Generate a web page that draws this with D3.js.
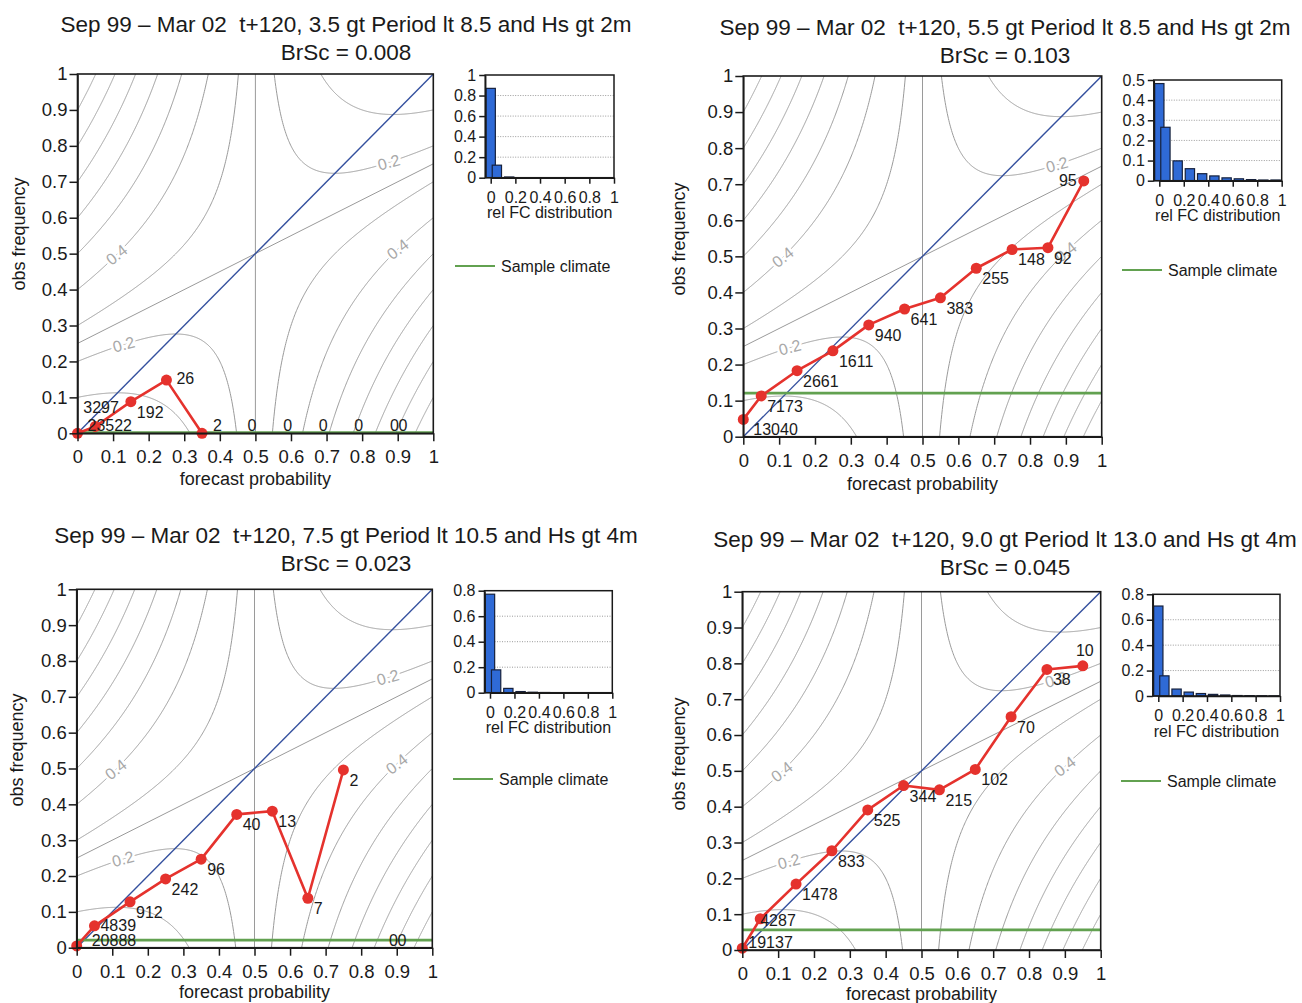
<!DOCTYPE html>
<html><head><meta charset="utf-8">
<script src="https://cdn.jsdelivr.net/npm/d3@7"></script>
<style>
body{margin:0;background:#fff;}
svg{font-family:"Liberation Sans",Arial,Helvetica,sans-serif;}
.title{white-space:pre;}
</style></head><body>
<svg id="chart" width="1302" height="1003"></svg>
<script>
// ---------------- data ----------------
const forecastProbs = [0, 0.05, 0.15, 0.25, 0.35, 0.45, 0.55, 0.65, 0.75, 0.85, 0.95];

const titles = [
  "Sep 99 \u2013 Mar 02  t+120, 3.5 gt Period lt 8.5 and Hs gt 2m",
  "Sep 99 \u2013 Mar 02  t+120, 5.5 gt Period lt 8.5 and Hs gt 2m",
  "Sep 99 \u2013 Mar 02  t+120, 7.5 gt Period lt 10.5 and Hs gt 4m",
  "Sep 99 \u2013 Mar 02  t+120, 9.0 gt Period lt 13.0 and Hs gt 4m"
];
const brierScores = ["0.008", "0.103", "0.023", "0.045"];

const counts1 = [23522, 3297, 192, 26, 2, 0, 0, 0, 0, 0, 0];
const obs1    = [0.0, 0.019, 0.088, 0.148, 0.0, null, null, null, null, null, null];

const counts2 = [13040, 7173, 2661, 1611, 940, 641, 383, 255, 148, 92, 95];
const obs2    = [0.048, 0.113, 0.183, 0.238, 0.310, 0.354, 0.385, 0.467, 0.519, 0.524, 0.709];

const counts3 = [20888, 4839, 912, 242, 96, 40, 13, 7, 2, 0, 0];
const obs3    = [0.005, 0.061, 0.128, 0.192, 0.247, 0.372, 0.381, 0.138, 0.496, null, null];

const counts4 = [19137, 4287, 1478, 833, 525, 344, 215, 102, 70, 38, 10];
const obs4    = [0.005, 0.087, 0.184, 0.277, 0.391, 0.459, 0.447, 0.504, 0.651, 0.783, 0.793];

const sampleClimate = [0.002, 0.121, 0.021, 0.056];

const mainTicks = [0, 0.1, 0.2, 0.3, 0.4, 0.5, 0.6, 0.7, 0.8, 0.9, 1];
const insetXTicks = [0, 0.2, 0.4, 0.6, 0.8, 1];
const insetYTicks = [
  [0, 0.2, 0.4, 0.6, 0.8, 1],
  [0, 0.1, 0.2, 0.3, 0.4, 0.5],
  [0, 0.2, 0.4, 0.6, 0.8],
  [0, 0.2, 0.4, 0.6, 0.8]
];

// Brier-score isopleth levels drawn in the background
const contourLevels = [0.1, 0.2, 0.25, 0.3, 0.4, 0.5, 0.6, 0.7, 0.8, 0.9];
const contourLabelLevels = [0.4, 0.2, 0.2, 0.4];
const contourLabelAt = [0.11, 0.13, 0.875, 0.9];

// ---------------- layout (positions / styles) ----------------
const layouts = [
  {plot:[77.5,433.3,74,433.3],   inset:[490.7,614,75,177.7],   tx:346,  ty:[32,60],   xl:485,  yl:[25,234],  lg:[455,495,266]},
  {plot:[743.3,1101.7,76,436.7], inset:[1159.3,1281.7,80,180.7], tx:1005, ty:[35,63],   xl:490,  yl:[685,239], lg:[1122,1162,270]},
  {plot:[76.7,432.3,589.3,947.7],inset:[490,612.3,590.7,692.7], tx:346,  ty:[543,571], xl:998,  yl:[23,750],  lg:[453,493,779]},
  {plot:[742.3,1100.7,591.7,950],inset:[1158.3,1280,594.3,696], tx:1005, ty:[547,575], xl:1000, yl:[685,754], lg:[1121,1161,781]}
];
const labelTweaks = {
  "0-0":{dx:10}, "0-1":{dx:-12,dy:-13}, "0-3":{dx:10,dy:4}, "0-4":{dx:11}, "0-10":{dx:-17},
  "1-0":{dx:10}, "1-10":{dx:-7,dy:5,anchor:"end"},
  "2-0":{dx:15}, "2-1":{dy:5}, "2-10":{dx:-17},
  "3-1":{dx:0,dy:7}, "3-10":{dx:2,dy:-10,anchor:"middle"}
};
const C = {contour:"#9a9a9a", diag:"#34509e", red:"#e5322d", green:"#62a150", bar:"#2f6ad6", barStroke:"#16213d"};

const panels = [
  {counts:counts1, obs:obs1},
  {counts:counts2, obs:obs2},
  {counts:counts3, obs:obs3},
  {counts:counts4, obs:obs4}
];

const svg = d3.select("#chart");
const fmt = d3.format("~g");

function oOf(B, p){ return (B - p*p) / (1 - 2*p); }
function sample(B, a, b){
  const n = 300;
  return d3.range(n+1).map(k => { const p = a + (b-a)*k/n; return [p, oOf(B,p)]; });
}
function branches(B){
  const s = Math.sqrt(B);
  if (Math.abs(B - 0.25) < 1e-9) return [[[0,0.25],[1,0.75]], [[0.5,0],[0.5,1]]];
  if (B < 0.25) return [sample(B, 0, s), sample(B, 1 - s, 1)];
  return [sample(B, 0, 1 - s), sample(B, s, 1)];
}

panels.forEach((pd, i) => {
  const L = layouts[i];
  const [px0, px1, pyT, pyB] = L.plot;
  const x = d3.scaleLinear().domain([0,1]).range([px0, px1]);
  const y = d3.scaleLinear().domain([0,1]).range([pyB, pyT]);
  const g = svg.append("g");

  svg.append("clipPath").attr("id", "clip" + i).append("rect")
    .attr("x", px0).attr("y", pyT).attr("width", px1 - px0).attr("height", pyB - pyT);

  // titles
  g.append("text").attr("class","title").attr("x", L.tx).attr("y", L.ty[0])
    .attr("text-anchor","middle").attr("font-size", 22.5).attr("fill","#1a1a1a").text(titles[i]);
  g.append("text").attr("class","title").attr("x", L.tx).attr("y", L.ty[1])
    .attr("text-anchor","middle").attr("font-size", 22.5).attr("fill","#1a1a1a").text("BrSc = " + brierScores[i]);

  // contours
  const line = d3.line().x(d => x(d[0])).y(d => y(d[1]));
  const cg = g.append("g").attr("clip-path", `url(#clip${i})`);
  contourLevels.forEach(B => {
    branches(B).forEach(pts => {
      cg.append("path").attr("d", line(pts)).attr("fill","none")
        .attr("stroke", C.contour).attr("stroke-width", 1);
    });
  });
  contourLabelLevels.forEach((B, k) => {
    const p = contourLabelAt[k];
    const o = oOf(B, p);
    const h = 0.01;
    const ang = Math.atan2(y(oOf(B,p+h)) - y(oOf(B,p-h)), x(p+h) - x(p-h)) * 180 / Math.PI;
    cg.append("text").attr("transform", `translate(${x(p)},${y(o)}) rotate(${ang * 0.85})`)
      .attr("text-anchor","middle").attr("dy","0.35em").attr("font-size",16)
      .attr("fill","#a8a8a8").attr("stroke","#fff").attr("stroke-width",5)
      .attr("paint-order","stroke").text(fmt(B));
  });

  // diagonal
  cg.append("path").attr("d", line([[0,0],[1,1]])).attr("stroke", C.diag)
    .attr("stroke-width", 1.4).attr("fill","none");

  // sample climate
  cg.append("path").attr("d", line([[0,sampleClimate[i]],[1,sampleClimate[i]]]))
    .attr("stroke", C.green).attr("stroke-width", 2.8).attr("fill","none");

  // reliability curve
  const pts = forecastProbs.map((p, k) => ({p, o: pd.obs[k], n: pd.counts[k], k}));
  const valid = pts.filter(d => d.o !== null);
  g.append("path").attr("d", d3.line().x(d => x(d.p)).y(d => y(d.o))(valid))
    .attr("fill","none").attr("stroke", C.red).attr("stroke-width", 2.6).attr("stroke-linejoin","round");
  g.selectAll(null).data(valid).enter().append("circle")
    .attr("cx", d => x(d.p)).attr("cy", d => y(d.o)).attr("r", 5.5).attr("fill", C.red);

  // count labels
  pts.forEach(d => {
    const t = labelTweaks[i + "-" + d.k] || {};
    const baseDx = d.o === null ? 10 : 6;
    const dx = t.dx !== undefined ? t.dx : baseDx;
    const dy = t.dy !== undefined ? t.dy : 16;
    const cy = d.o === null ? pyB : y(d.o);
    let by = cy + dy;
    if (by > pyB - 2) by = pyB - 2;
    g.append("text").attr("x", x(d.p) + dx).attr("y", by)
      .attr("text-anchor", t.anchor || "start").attr("font-size", 16).attr("fill","#1a1a1a")
      .text(d.n);
  });

  // axes & frame
  const xa = g.append("g").attr("transform", `translate(0,${pyB})`)
    .call(d3.axisBottom(x).tickValues(mainTicks).tickFormat(fmt).tickSize(8).tickPadding(9).tickSizeOuter(0));
  const ya = g.append("g").attr("transform", `translate(${px0},0)`)
    .call(d3.axisLeft(y).tickValues(mainTicks).tickFormat(fmt).tickSize(8).tickPadding(2).tickSizeOuter(0));
  [xa, ya].forEach(a => {
    a.selectAll("text").attr("font-size", 18.5).attr("fill","#1a1a1a");
    a.selectAll("line").attr("stroke","#1a1a1a").attr("stroke-width",1.5);
    a.select(".domain").attr("stroke","#1a1a1a").attr("stroke-width",1.5);
    a.attr("font-family", null);
  });
  g.append("rect").attr("x", px0).attr("y", pyT).attr("width", px1 - px0).attr("height", pyB - pyT)
    .attr("fill","none").attr("stroke","#1a1a1a").attr("stroke-width",1.6);

  g.append("text").attr("x", (px0 + px1) / 2).attr("y", L.xl).attr("text-anchor","middle")
    .attr("font-size", 18).attr("fill","#1a1a1a").text("forecast probability");
  g.append("text").attr("transform", `translate(${L.yl[0]},${L.yl[1]}) rotate(-90)`)
    .attr("text-anchor","middle").attr("font-size", 18).attr("fill","#1a1a1a").text("obs frequency");

  // inset histogram
  const [ix0, ix1, iyT, iyB] = L.inset;
  const ix = d3.scaleLinear().domain([0,1]).range([ix0, ix1]);
  const yt = insetYTicks[i];
  const iy = d3.scaleLinear().domain([0, yt[yt.length-1]]).range([iyB, iyT]);
  const left = ix0 - 5.5;
  const total = d3.sum(pd.counts);
  yt.slice(1, -1).forEach(v => {
    g.append("line").attr("x1", left).attr("x2", ix1).attr("y1", iy(v)).attr("y2", iy(v))
      .attr("stroke","#9a9a9a").attr("stroke-width",1).attr("stroke-dasharray","1,1.5");
  });
  const bw = 9.3;
  g.selectAll(null).data(forecastProbs.map((p,k) => ({p, f: pd.counts[k] / total}))).enter()
    .append("rect").attr("x", d => ix(d.p) - bw/2).attr("width", bw)
    .attr("y", d => iy(d.f)).attr("height", d => iyB - iy(d.f))
    .attr("fill", C.bar).attr("stroke", C.barStroke).attr("stroke-width", 1.2);
  const ixa = g.append("g").attr("transform", `translate(0,${iyB})`)
    .call(d3.axisBottom(ix).tickValues(insetXTicks).tickFormat(fmt).tickSize(6).tickPadding(8).tickSizeOuter(0));
  const iya = g.append("g").attr("transform", `translate(${left},0)`)
    .call(d3.axisLeft(iy).tickValues(yt).tickFormat(fmt).tickSize(6).tickPadding(3).tickSizeOuter(0));
  [ixa, iya].forEach(a => {
    a.attr("font-family", null);
    a.selectAll("text").attr("font-size", 16).attr("fill","#1a1a1a");
    a.selectAll("line").attr("stroke","#1a1a1a").attr("stroke-width",1.5);
    a.select(".domain").attr("stroke","#1a1a1a").attr("stroke-width",1.5);
  });
  g.append("rect").attr("x", left).attr("y", iyT).attr("width", ix1 - left).attr("height", iyB - iyT)
    .attr("fill","none").attr("stroke","#1a1a1a").attr("stroke-width",1.5);
  g.append("text").attr("x", (left + ix1) / 2).attr("y", iyB + 40.5).attr("text-anchor","middle")
    .attr("font-size", 16).attr("fill","#1a1a1a").text("rel FC distribution");

  // legend
  const [lx0, lx1, ly] = L.lg;
  g.append("line").attr("x1", lx0).attr("x2", lx1).attr("y1", ly).attr("y2", ly)
    .attr("stroke", C.green).attr("stroke-width", 2);
  g.append("text").attr("x", lx1 + 6).attr("y", ly + 6).attr("font-size", 16)
    .attr("fill","#1a1a1a").text("Sample climate");
});
</script>
</body></html>
